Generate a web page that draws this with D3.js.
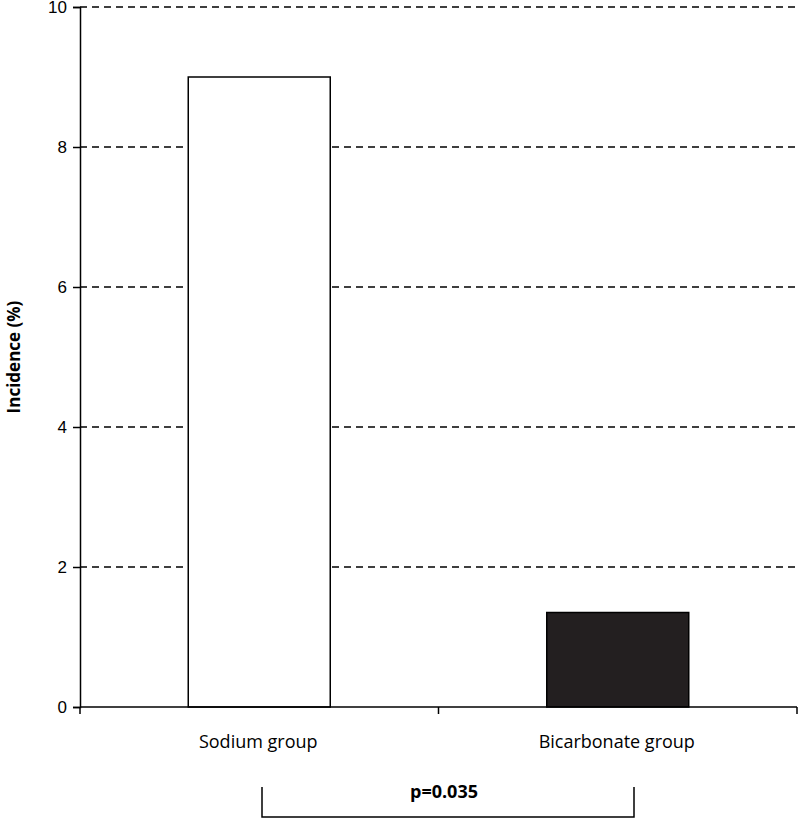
<!DOCTYPE html>
<html><head><meta charset="utf-8">
<script src="https://cdn.jsdelivr.net/npm/d3@7"></script>
<style>body{margin:0;background:#fff}svg{font-family:"Open Sans",sans-serif}</style>
</head><body>
<svg id="c" width="800" height="819"></svg>
<script>
const categories = ["Sodium group", "Bicarbonate group"];
const values = [9.0, 1.35];
const colors = ["#ffffff", "#231f20"];
const yTicks = [0, 2, 4, 6, 8, 10];
const pLabel = "p=0.035";

const svg = d3.select("#c");
const m = {l: 80, r: 797, t: 7, b: 707};
const x = d3.scaleBand().domain(categories).range([m.l, m.r]).paddingInner(0).paddingOuter(0);
const y = d3.scaleLinear().domain([0, 10]).range([m.b, m.t]);
const bw = 142;

svg.append("g").selectAll("line").data(yTicks.filter(d => d > 0)).join("line")
  .attr("x1", m.l).attr("x2", m.r).attr("y1", d => y(d)).attr("y2", d => y(d))
  .attr("stroke", "#000").attr("stroke-width", 1.5).attr("stroke-dasharray", "7,5");

svg.append("g").selectAll("rect").data(categories).join("rect")
  .attr("x", d => x(d) + x.bandwidth() / 2 - bw / 2)
  .attr("width", bw)
  .attr("y", (d, i) => y(values[i]))
  .attr("height", (d, i) => y(0) - y(values[i]))
  .attr("fill", (d, i) => colors[i]).attr("stroke", "#000").attr("stroke-width", 1.5);

const ya = svg.append("g").attr("transform", `translate(${m.l},0)`)
  .call(d3.axisLeft(y).tickValues(yTicks).tickSize(7).tickPadding(6));
ya.selectAll("text").attr("font-size", 17).attr("fill", "#000");
ya.selectAll("line,path").attr("stroke", "#000").attr("stroke-width", 1.5);

const xa = svg.append("g").attr("transform", `translate(0,${m.b})`);
xa.append("line").attr("x1", m.l).attr("x2", m.r).attr("stroke", "#000").attr("stroke-width", 1.5);
const bounds = [m.l, m.l + x.bandwidth(), m.r];
xa.selectAll("line.t").data(bounds).join("line").attr("class", "t")
  .attr("x1", d => d).attr("x2", d => d).attr("y1", 0).attr("y2", 7)
  .attr("stroke", "#000").attr("stroke-width", 1.5);
xa.selectAll("text").data(categories).join("text")
  .attr("x", d => x(d) + x.bandwidth() / 2 - 1).attr("y", 41)
  .attr("text-anchor", "middle").attr("font-size", 18).text(d => d);

svg.append("text").attr("transform", "translate(20,357) rotate(-90)")
  .attr("text-anchor", "middle").attr("font-size", 17).attr("font-weight", "bold").text("Incidence (%)");

svg.append("path").attr("d", "M262,787V817H634V787").attr("fill", "none").attr("stroke", "#000").attr("stroke-width", 1.5);
svg.append("text").attr("x", 444).attr("y", 798).attr("text-anchor", "middle")
  .attr("font-size", 18).attr("font-weight", "bold").text(pLabel);
</script>
</body></html>
